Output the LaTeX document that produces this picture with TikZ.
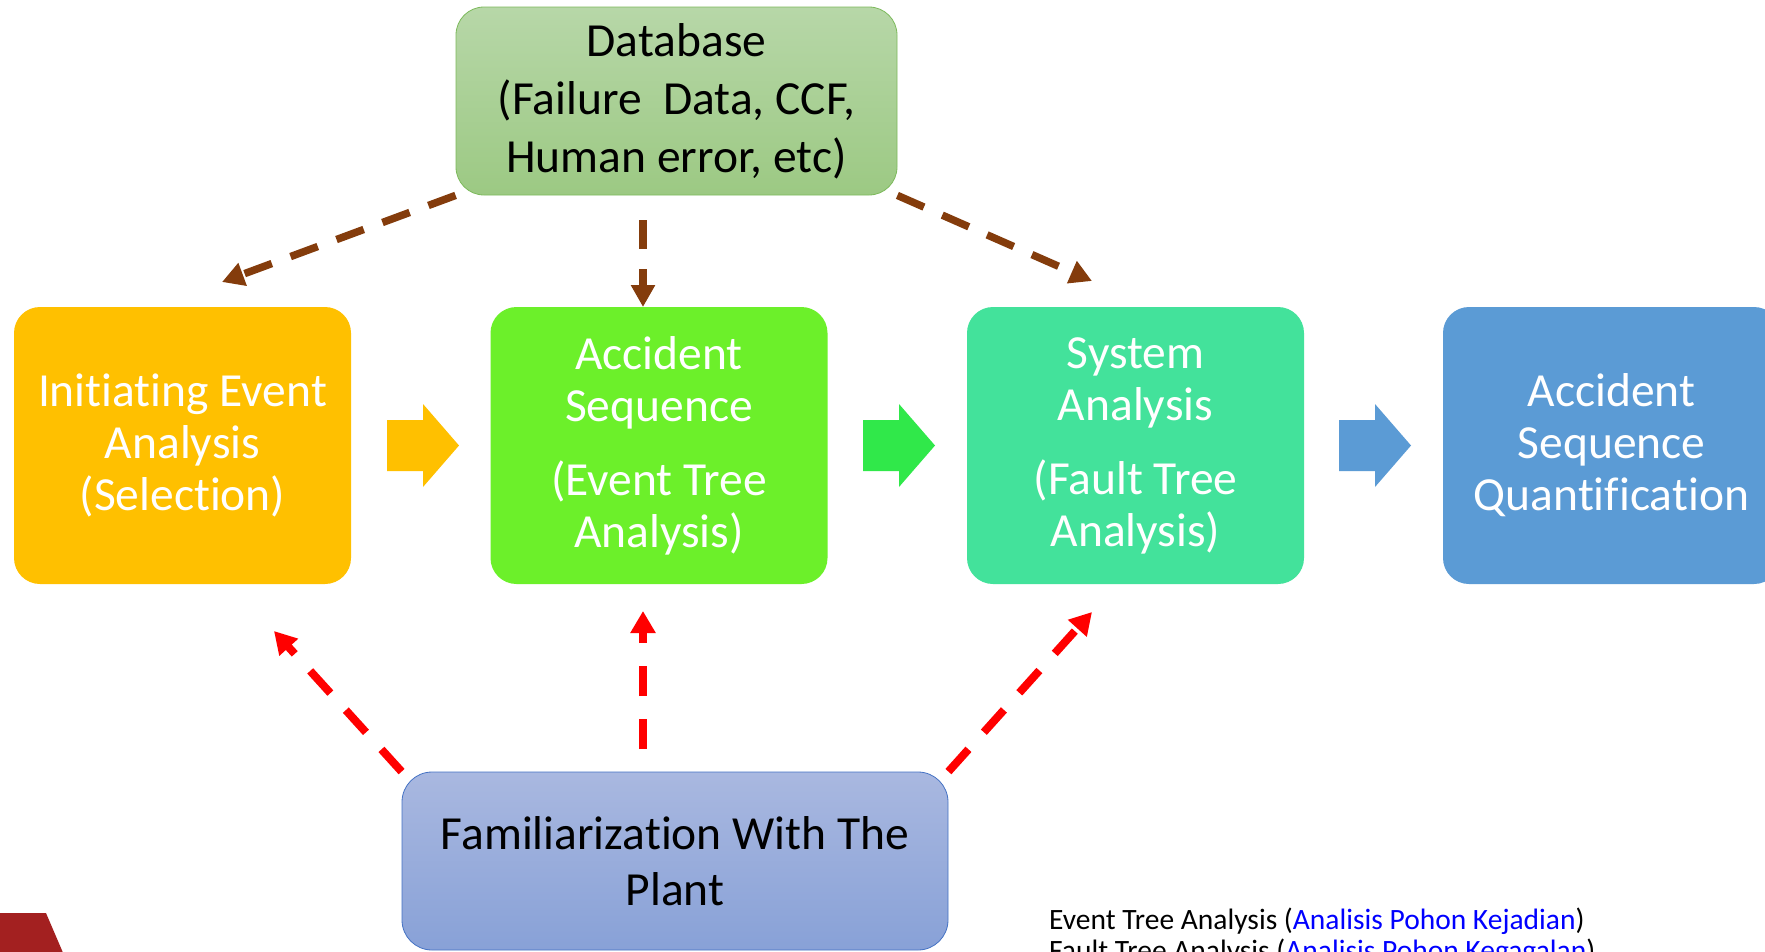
\documentclass[tikz,border=0pt]{standalone}
\usepackage{fontspec}
\setmainfont{Carlito}[Ligatures={NoCommon}]
\usetikzlibrary{arrows.meta}
\definecolor{cOrange}{HTML}{FFC000}
\definecolor{cLime}{HTML}{6CF02A}
\definecolor{cAqua}{HTML}{43E29B}
\definecolor{cBlue}{HTML}{5B9BD5}
\definecolor{cArrowGreen}{HTML}{30E84A}
\definecolor{cBrown}{HTML}{843C0C}
\definecolor{cRed}{HTML}{FF0000}
\definecolor{cDbTop}{HTML}{B7D7A8}
\definecolor{cDbBot}{HTML}{9CC983}
\definecolor{cDbLine}{HTML}{7DBA5C}
\definecolor{cFamTop}{HTML}{A9B8E0}
\definecolor{cFamBot}{HTML}{88A1D7}
\definecolor{cFamLine}{HTML}{4472C4}
\definecolor{cLogo}{HTML}{A32020}
\definecolor{cLink}{HTML}{0000FF}
\begin{document}
\begin{tikzpicture}[x=1pt,y=-1pt,
  stage/.style={rounded corners=26pt, minimum width=337pt, minimum height=277pt,
    inner sep=0pt, text=white, align=center, font=\fontsize{47.5}{52}\selectfont},
  topbox/.style={rounded corners=28pt, minimum width=441pt, minimum height=188pt,
    inner sep=0pt, align=center, draw=cDbLine, line width=0.8pt,
    top color=cDbTop, bottom color=cDbBot, font=\fontsize{47.5}{58}\selectfont},
  basebox/.style={rounded corners=30pt, minimum width=546pt, minimum height=178pt,
    inner sep=0pt, align=center, draw=cFamLine, line width=0.8pt,
    top color=cFamTop, bottom color=cFamBot, font=\fontsize{47.5}{56}\selectfont},
  feedarrow/.style={draw=cBrown, line width=7.5pt, dash pattern=on 29pt off 20pt,
    -{Triangle[length=22pt,width=23pt]}},
  plantarrow/.style={draw=cRed, line width=8pt, dash pattern=on 30pt off 23pt,
    -{Triangle[length=22pt,width=24pt]}},
  notetext/.style={anchor=base west, inner sep=0pt, font=\fontsize{29.5}{32}\selectfont}
]
\useasboundingbox (0,0) rectangle (1765,951);
\fill[white] (0,0) rectangle (1765,951);

% main row
\node[stage, fill=cOrange] (ie) at (182.5,445.5) {Initiating Event\\Analysis\\(Selection)};
\node[stage, fill=cLime] (as) at (659,445.5) {Accident\\Sequence\\[22pt](Event Tree\\Analysis)};
\node[stage, fill=cAqua] (sa) at (1135.5,445.5) {System\\Analysis\\[22pt](Fault Tree\\Analysis)};
\node[stage, fill=cBlue] (asq) at (1611.5,445.5) {Accident\\Sequence\\Quantification};

% block arrows
\fill[cOrange] (387,420) -- (423,420) -- (423,404) -- (459,445.5) -- (423,487) -- (423,471) -- (387,471) -- cycle;
\fill[cArrowGreen] (863,420) -- (899,420) -- (899,404) -- (935,445.5) -- (899,487) -- (899,471) -- (863,471) -- cycle;
\fill[cBlue] (1339,420) -- (1375,420) -- (1375,404) -- (1411,445.5) -- (1375,487) -- (1375,471) -- (1339,471) -- cycle;

% database
\node[topbox] (db) at (676.5,101) {Database\\(Failure\ \ Data, CCF,\\Human error, etc)};

% familiarization
\node[basebox] (fam) at (675,861) {Familiarization With The\\Plant};

% coordinates for free ends
\coordinate (ieIn) at (222,282);
\coordinate (dbC) at (643,220);
\coordinate (asIn) at (643,307);
\coordinate (saIn) at (1092,281);
\coordinate (ieUp) at (274,631);
\coordinate (famC) at (643,749);
\coordinate (asUp) at (643,611);
\coordinate (saUp) at (1092,612);

% database feeds
\draw[feedarrow] (db.south west) -- (ieIn);
\draw[feedarrow] (dbC) -- (asIn);
\draw[feedarrow] (db.south east) -- (saIn);

% plant feeds
\draw[plantarrow] (fam.north west) -- (ieUp);
\draw[plantarrow] (famC) -- (asUp);
\draw[plantarrow] (fam.north east) -- (saUp);

% logo fragment
\fill[cLogo] (0,913) -- (46,913) -- (64,955) -- (0,955) -- cycle;

% notes
\node[notetext] (note1) at (1049,929) {Event Tree Analysis (\textcolor{cLink}{Analisis Pohon Kejadian})};
\node[notetext] (note2) at (1049,960) {Fault Tree Analysis (\textcolor{cLink}{Analisis Pohon Kegagalan})};
\end{tikzpicture}
\end{document}
